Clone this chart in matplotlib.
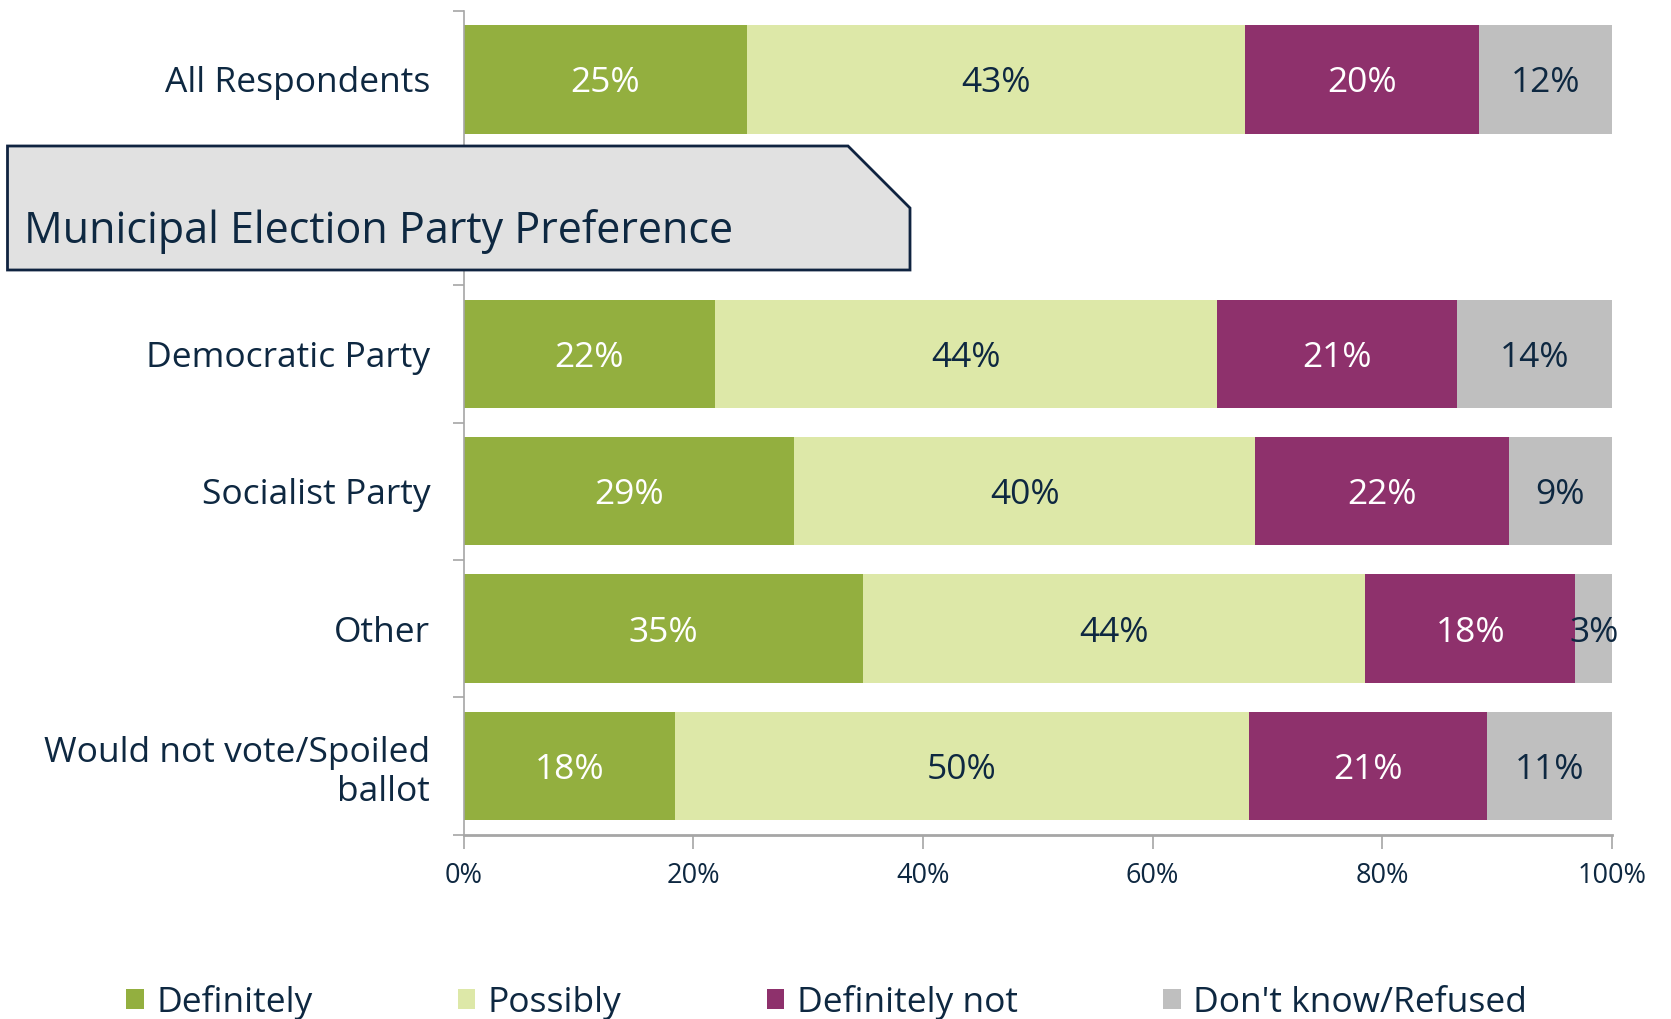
import numpy as np
import matplotlib
matplotlib.use('Agg')
import matplotlib.pyplot as plt
from matplotlib.patches import Polygon, Patch

plt.rcParams['font.family'] = ['Open Sans', 'DejaVu Sans']

# data (percent of respondents)
groups = ['All Respondents', 'Democratic Party', 'Socialist Party', 'Other',
          'Would not vote/Spoiled\nballot']
answers = ['Definitely', 'Possibly', 'Definitely not', "Don't know/Refused"]
definitely = [24.7, 21.9, 28.8, 34.8, 18.4]
possibly = [43.3, 43.7, 40.1, 43.7, 50.0]
definitely_not = [20.4, 20.9, 22.1, 18.3, 20.7]
dont_know = [11.6, 13.5, 9.0, 3.2, 10.9]
banner_title = 'Municipal Election Party Preference'

colors = ['#93AF3F', '#DDE8A8', '#8E316C', '#BFBFBF']
label_colors = ['white', '#0E2841', 'white', '#0E2841']
navy = '#0E2841'
axis_gray = '#A6A6A6'

W, H = 1671, 1019
fig = plt.figure(figsize=(W / 100, H / 100), dpi=100)
ax = fig.add_axes([463.6 / W, 1 - 834.5 / H, 1148.4 / W, (834.5 - 10.7) / H])

# row 1 is left empty for the banner
rows = np.array([0] + list(range(2, len(groups) + 1)))
series = [definitely, possibly, definitely_not, dont_know]
left = np.zeros(len(groups))
for vals, col, tcol in zip(series, colors, label_colors):
    vals = np.array(vals)
    ax.barh(rows, vals, left=left, height=0.79, color=col, edgecolor='none')
    for r, l, v in zip(rows, left, vals):
        ax.text(l + v / 2, r, f'{round(v)}%', ha='center', va='center_baseline',
                fontsize=25.5, color=tcol)
    left += vals

ax.set_xlim(0, 100)
ax.set_ylim(len(groups) + 0.5, -0.5)
ax.set_xticks(np.arange(0, 101, 20))
ax.set_xticklabels([f'{t}%' for t in range(0, 101, 20)])
ax.set_yticks(rows)
ax.set_yticklabels(groups, linespacing=1.2)
ax.set_yticks(np.arange(-0.5, len(groups) + 1, 1), minor=True)
ax.tick_params(axis='y', which='major', length=0, pad=24, labelsize=25.5, labelcolor=navy)
ax.tick_params(axis='y', which='minor', length=8, color=axis_gray, width=1.2)
ax.tick_params(axis='x', length=10, color=axis_gray, width=1.2, pad=10,
               labelsize=19.5, labelcolor=navy)
for s in ['top', 'right']:
    ax.spines[s].set_visible(False)
for s in ['left', 'bottom']:
    ax.spines[s].set_color(axis_gray)
    ax.spines[s].set_linewidth(1.2)
ax.spines['bottom'].set_linewidth(2)

# banner across the empty row
pts = [(7.5, 146), (848, 146), (910, 208), (910, 270), (7.5, 270)]
banner = Polygon([(x / W, 1 - y / H) for x, y in pts], closed=True,
                 transform=fig.transFigure, facecolor='#E1E1E1',
                 edgecolor='#0F2340', linewidth=2, zorder=5)
fig.patches.append(banner)
fig.text(24.5 / W, 1 - 243 / H, banner_title, fontsize=31, color=navy,
         va='baseline', ha='left', zorder=6)

handles = [Patch(facecolor=c, edgecolor='none') for c in colors]
fig.legend(handles, answers, loc='center left', bbox_to_anchor=(126 / W, 1 - 1002 / H),
           ncol=4, frameon=False, fontsize=25.5, labelcolor=navy,
           handlelength=0.5, handleheight=0.5, handletextpad=0.35,
           columnspacing=4.1, borderpad=0, borderaxespad=0)

fig.savefig('out.png', dpi=100)
